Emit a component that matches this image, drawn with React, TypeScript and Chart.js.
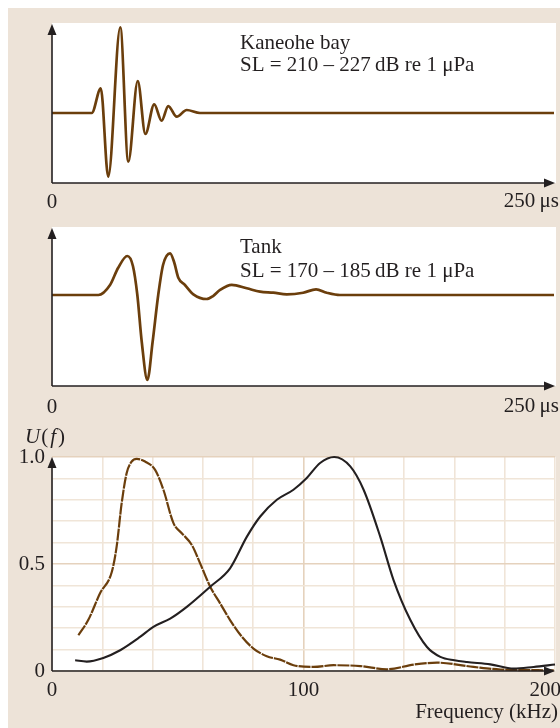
import React, { useEffect, useRef } from "react";
import { Chart, registerables } from "chart.js";

Chart.register(...registerables);

// ---- Panel 1: Kaneohe bay click waveform (time in µs, relative amplitude)
const bayTime = [0, 19.8, 24.3, 28.0, 34.0, 38.0, 42.7, 46.5, 50.9, 54.6, 57.9, 62.1, 67.1, 73.7, 250];
const bayAmp = [0, 0, 0.287, -0.741, 0.997, -0.566, 0.372, -0.244, 0.101, -0.09, 0.081, -0.043, 0.035, 0, 0];

// ---- Panel 2: Tank click waveform
const tankTime = [0, 23.1, 28.9, 32.9, 37.5, 40.3, 42.5, 44.7, 47.5, 50.1, 52.9, 55.3, 58.8, 60.8, 62.9, 66.2, 70.4, 77.0, 80.2, 83.7, 89.5, 97.0, 103.6, 110.2, 116.9, 125.1, 131.5, 136.8, 143.4, 250];
const tankAmp = [0, 0, 0.118, 0.318, 0.459, 0.341, 0, -0.553, -1.0, -0.553, 0, 0.353, 0.49, 0.388, 0.204, 0.118, 0.008, -0.047, -0.012, 0.059, 0.118, 0.079, 0.039, 0.027, 0.008, 0.027, 0.067, 0.027, 0, 0];

// ---- Panel 3: spectra U(f), frequency in kHz
const bayFreq = [9.2, 13.8, 20.4, 27.1, 35.0, 40.3, 47.0, 53.6, 62.9, 70.8, 77.5, 82.8, 89.4, 96.0, 101.3, 106.6, 112.2, 118.6, 123.9, 130.5, 135.8, 142.5, 149.1, 154.4, 160.0, 165.0, 174.3, 183.6, 191.5, 200];
const bayU = [0.05, 0.044, 0.061, 0.097, 0.159, 0.206, 0.245, 0.3, 0.394, 0.48, 0.628, 0.722, 0.8, 0.847, 0.902, 0.972, 1.0, 0.956, 0.847, 0.628, 0.425, 0.238, 0.112, 0.066, 0.05, 0.042, 0.031, 0.011, 0.019, 0.03];
const tankFreq = [10.5, 14.4, 19.1, 23.8, 25.7, 27.7, 29.7, 31.7, 33.7, 37.0, 41.0, 44.3, 48.3, 51.6, 55.6, 58.9, 62.9, 66.9, 70.8, 75.5, 80.1, 85.4, 90.7, 96.0, 104.0, 112.0, 122.6, 133.2, 143.8, 153.1, 167.6, 178.3, 199.5];
const tankU = [0.167, 0.238, 0.363, 0.464, 0.581, 0.784, 0.925, 0.979, 0.991, 0.979, 0.94, 0.847, 0.691, 0.644, 0.589, 0.503, 0.394, 0.315, 0.238, 0.16, 0.105, 0.069, 0.053, 0.027, 0.019, 0.027, 0.023, 0.008, 0.03, 0.039, 0.019, 0.007, 0.003];

// ---- tick labels
const timeTickValues = [0, 250];
const timeTickLabels = ["0", "250\u2009\u03bcs"];
const freqTickValues = [0, 100, 200];
const freqTickLabels = ["0", "100", "200"];
const uTickValues = [0, 0.5, 1];
const uTickLabels = ["0", "0.5", "1.0"];

const FONT = '"Liberation Serif", "Times New Roman", serif';
const INK = "#231f20";
const BROWN = "#6b3e0c";
const BEIGE = "#ede3d8";
const GRID_MINOR = "#f0e5d8";
const GRID_MAJOR = "#e5d2bd";

function arrowLine(ctx: CanvasRenderingContext2D, x1: number, y1: number, x2: number, y2: number) {
  const a = Math.atan2(y2 - y1, x2 - x1);
  const L = 11;
  const W = 4.5;
  ctx.save();
  ctx.strokeStyle = INK;
  ctx.fillStyle = INK;
  ctx.lineWidth = 1.6;
  ctx.beginPath();
  ctx.moveTo(x1, y1);
  ctx.lineTo(x2 - Math.cos(a) * L * 0.7, y2 - Math.sin(a) * L * 0.7);
  ctx.stroke();
  const bx = x2 - Math.cos(a) * L;
  const by = y2 - Math.sin(a) * L;
  ctx.beginPath();
  ctx.moveTo(x2, y2);
  ctx.lineTo(bx - Math.sin(a) * W, by + Math.cos(a) * W);
  ctx.lineTo(bx + Math.sin(a) * W, by - Math.cos(a) * W);
  ctx.closePath();
  ctx.fill();
  ctx.restore();
}

function text(ctx: CanvasRenderingContext2D, s: string, x: number, y: number, align: CanvasTextAlign = "left", italic = false) {
  ctx.save();
  ctx.font = `${italic ? "italic " : ""}21px ${FONT}`;
  ctx.fillStyle = INK;
  ctx.textAlign = align;
  ctx.textBaseline = "alphabetic";
  ctx.fillText(s, x, y);
  ctx.restore();
}

type WaveCfg = {
  yMin: number;
  yMax: number;
  padTop: number;
  padBottom: number;
  title: string;
  sub: string;
  titleY: number;
  subY: number;
  zeroY: number;
  unitY: number;
};

function waveChart(canvas: HTMLCanvasElement, times: number[], amps: number[], cfg: WaveCfg) {
  return new Chart(canvas, {
    type: "line",
    data: {
      datasets: [
        {
          data: times.map((t, i) => ({ x: t, y: amps[i] })),
          borderColor: BROWN,
          borderWidth: 2.7,
          pointRadius: 0,
          cubicInterpolationMode: "monotone",
          fill: false,
          clip: false as any,
        },
      ],
    },
    options: {
      responsive: false,
      animation: false,
      events: [],
      layout: { padding: { left: 44, right: 6, top: cfg.padTop, bottom: cfg.padBottom } },
      plugins: { legend: { display: false }, tooltip: { enabled: false } },
      scales: {
        x: { type: "linear", min: 0, max: 250, display: false },
        y: { type: "linear", min: cfg.yMin, max: cfg.yMax, display: false },
      },
    },
    plugins: [
      {
        id: "waveDeco",
        beforeDraw(chart: any) {
          const { ctx, chartArea: a } = chart;
          ctx.save();
          ctx.fillStyle = "#ffffff";
          ctx.fillRect(a.left, a.top, a.right - a.left + 2, a.bottom - a.top);
          ctx.restore();
        },
        afterDraw(chart: any) {
          const { ctx, chartArea: a } = chart;
          const xs = chart.scales.x;
          arrowLine(ctx, a.left, a.bottom, a.left, a.top + 1);
          arrowLine(ctx, a.left, a.bottom, a.right + 1, a.bottom);
          text(ctx, timeTickLabels[0], xs.getPixelForValue(timeTickValues[0]), cfg.zeroY, "center");
          text(ctx, timeTickLabels[1], chart.width - 1, cfg.unitY, "right");
          text(ctx, cfg.title, 232, cfg.titleY);
          text(ctx, cfg.sub, 232, cfg.subY);
        },
      },
    ],
  } as any);
}

function spectrumChart(canvas: HTMLCanvasElement) {
  const near = (a: number, b: number) => Math.abs(a - b) < 1e-6;
  return new Chart(canvas, {
    type: "line",
    data: {
      datasets: [
        {
          data: bayFreq.map((f, i) => ({ x: f, y: bayU[i] })),
          borderColor: INK,
          borderWidth: 2.1,
          pointRadius: 0,
          cubicInterpolationMode: "monotone",
          fill: false,
          clip: false as any,
        },
        {
          data: tankFreq.map((f, i) => ({ x: f, y: tankU[i] })),
          borderColor: BROWN,
          borderWidth: 2.2,
          borderDash: [12, 1],
          pointRadius: 0,
          cubicInterpolationMode: "monotone",
          fill: false,
          clip: false as any,
        },
      ],
    },
    options: {
      responsive: false,
      animation: false,
      events: [],
      layout: { padding: { left: 0, right: 5, top: 37, bottom: 0 } },
      plugins: { legend: { display: false }, tooltip: { enabled: false } },
      scales: {
        x: {
          type: "linear",
          min: 0,
          max: 200,
          ticks: { display: false, stepSize: 20, autoSkip: false },
          grid: {
            color: (c: any) => (c.tick && near(c.tick.value, 100) ? GRID_MAJOR : GRID_MINOR),
            lineWidth: 1.6,
            drawTicks: false,
          },
          border: { display: false },
          afterFit: (s: any) => {
            s.height = 57;
          },
        },
        y: {
          type: "linear",
          min: 0,
          max: 1,
          ticks: {
            stepSize: 0.1,
            autoSkip: false,
            padding: 7,
            color: INK,
            font: { family: FONT, size: 21 },
            callback: (v: any) => {
              const idx = uTickValues.findIndex((u) => near(u, Number(v)));
              return idx >= 0 ? uTickLabels[idx] : "";
            },
          },
          grid: {
            color: (c: any) => (c.tick && (near(c.tick.value, 0.5) || near(c.tick.value, 1)) ? GRID_MAJOR : GRID_MINOR),
            lineWidth: 1.6,
            drawTicks: false,
          },
          border: { display: false },
          afterFit: (s: any) => {
            s.width = 44;
          },
        },
      },
    },
    plugins: [
      {
        id: "specDeco",
        beforeDraw(chart: any) {
          const { ctx, chartArea: a } = chart;
          ctx.save();
          ctx.fillStyle = "#ffffff";
          ctx.fillRect(a.left, a.top, a.right - a.left + 1, a.bottom - a.top);
          ctx.restore();
        },
        afterDraw(chart: any) {
          const { ctx, chartArea: a } = chart;
          const xs = chart.scales.x;
          arrowLine(ctx, a.left, a.bottom, a.left, a.top);
          arrowLine(ctx, a.left, a.bottom, a.right, a.bottom);
          const base = a.bottom + 25;
          freqTickValues.forEach((v, i) => {
            if (i === freqTickValues.length - 1) {
              text(ctx, freqTickLabels[i], chart.width + 1, base, "right");
            } else {
              text(ctx, freqTickLabels[i], xs.getPixelForValue(v), base, "center");
            }
          });
          text(ctx, "Frequency (kHz)", chart.width - 2, a.bottom + 47, "right");
          // U(f) axis title
          ctx.save();
          let x = 17;
          const y = 23;
          const parts: [string, boolean][] = [["U", true], ["(", false], ["f", true], [")", false]];
          parts.forEach(([s, it]) => {
            ctx.font = `${it ? "italic " : ""}21px ${FONT}`;
            text(ctx, s, x, y, "left", it);
            x += ctx.measureText(s).width + (s === "(" ? 2 : s === "f" ? 2 : 1);
          });
          ctx.restore();
        },
      },
    ],
  } as any);
}

export default function App() {
  const c1 = useRef<HTMLCanvasElement>(null);
  const c2 = useRef<HTMLCanvasElement>(null);
  const c3 = useRef<HTMLCanvasElement>(null);

  useEffect(() => {
    const charts: Chart[] = [];
    if (c1.current) {
      charts.push(
        waveChart(c1.current, bayTime, bayAmp, {
          yMin: -70 / 86,
          yMax: 90 / 86,
          padTop: 15,
          padBottom: 33,
          title: "Kaneohe bay",
          sub: "SL = 210 \u2013 227\u2009dB re 1 \u03bcPa",
          titleY: 41,
          subY: 63,
          zeroY: 200,
          unitY: 199,
        })
      );
    }
    if (c2.current) {
      charts.push(
        waveChart(c2.current, tankTime, tankAmp, {
          yMin: -91 / 85,
          yMax: 68 / 85,
          padTop: 11,
          padBottom: 34,
          title: "Tank",
          sub: "SL = 170 \u2013 185\u2009dB re 1 \u03bcPa",
          titleY: 37,
          subY: 61,
          zeroY: 197,
          unitY: 196,
        })
      );
    }
    if (c3.current) charts.push(spectrumChart(c3.current));
    return () => charts.forEach((c) => c.destroy());
  }, []);

  const cv = (top: number, h: number): React.CSSProperties => ({
    position: "absolute",
    left: 0,
    top,
    width: 552,
    height: h,
    display: "block",
  });

  return (
    <div style={{ position: "fixed", left: 0, top: 0, width: 560, height: 728, overflow: "hidden", background: "#ffffff" }}>
      <div style={{ position: "absolute", left: 8, top: 8, width: 552, height: 720, background: BEIGE }}>
        <canvas ref={c1} width={552} height={208} style={cv(0, 208)} />
        <canvas ref={c2} width={552} height={204} style={cv(208, 204)} />
        <canvas ref={c3} width={552} height={308} style={cv(412, 308)} />
      </div>
    </div>
  );
}
